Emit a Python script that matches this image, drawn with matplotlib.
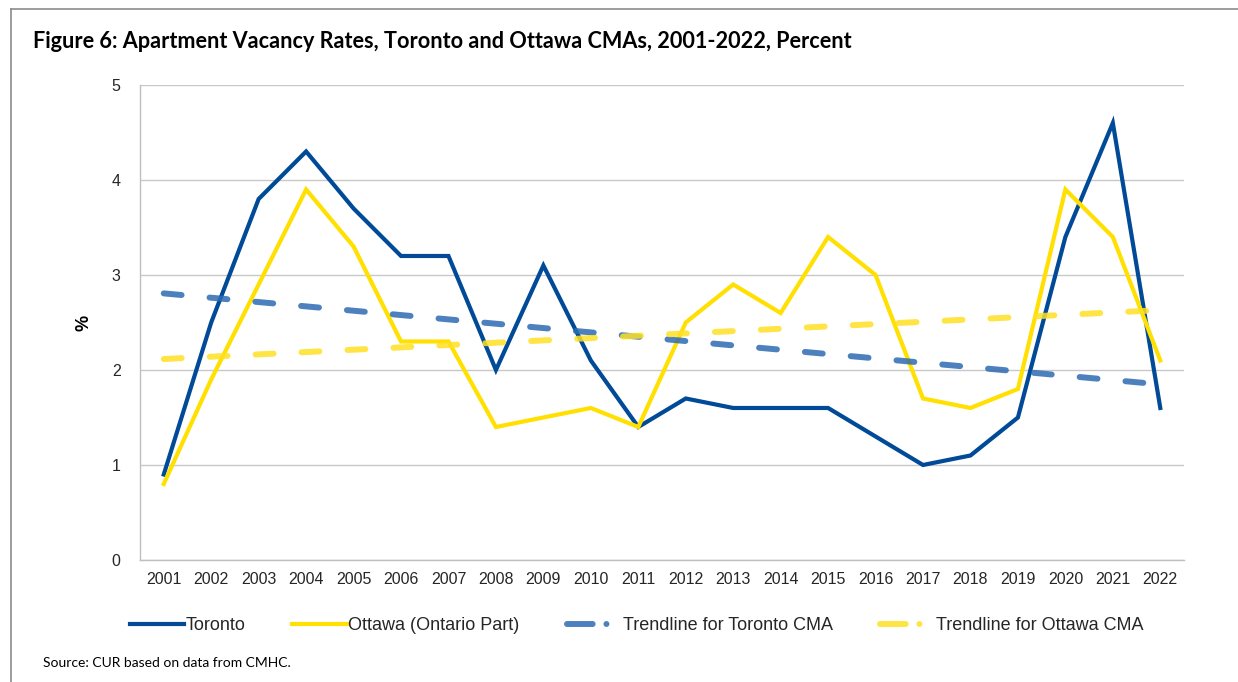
import matplotlib
matplotlib.use('Agg')
import matplotlib.pyplot as plt
import numpy as np
from matplotlib.lines import Line2D

years = ['2001', '2002', '2003', '2004', '2005', '2006', '2007', '2008', '2009', '2010', '2011',
         '2012', '2013', '2014', '2015', '2016', '2017', '2018', '2019', '2020', '2021', '2022']
toronto = [0.9, 2.5, 3.8, 4.3, 3.7, 3.2, 3.2, 2.0, 3.1, 2.1, 1.4,
           1.7, 1.6, 1.6, 1.6, 1.3, 1.0, 1.1, 1.5, 3.4, 4.6, 1.6]
ottawa = [0.8, 1.9, 2.9, 3.9, 3.3, 2.3, 2.3, 1.4, 1.5, 1.6, 1.4,
          2.5, 2.9, 2.6, 3.4, 3.0, 1.7, 1.6, 1.8, 3.9, 3.4, 2.1]

azul = '#004A98'
amarelo = '#FFE000'
azul_tend = '#2E6BB3'
amarelo_tend = '#FFE024'

x = np.arange(len(years))
# linear trendlines (as Excel does)
coef_t = np.polyfit(x, toronto, 1)
coef_o = np.polyfit(x, ottawa, 1)

plt.rcParams['font.family'] = ['Liberation Sans', 'DejaVu Sans']

fig = plt.figure(figsize=(12.38, 6.82), dpi=100)
ax = fig.add_axes([0.1131, 0.1789, 0.8433, 0.6965])

ax.plot(x, toronto, color=azul, lw=3, solid_joinstyle='miter', zorder=3)
ax.plot(x, ottawa, color=amarelo, lw=3, solid_joinstyle='miter', zorder=3)
ax.plot(x, np.polyval(coef_t, x), color=azul_tend, lw=4.3, alpha=0.85,
        dashes=(3, 4.7), dash_capstyle='round', zorder=4)
ax.plot(x, np.polyval(coef_o, x), color=amarelo_tend, lw=4.3, alpha=0.85,
        dashes=(3, 4.7), dash_capstyle='round', zorder=4)

ax.set_xlim(-0.5, len(years) - 0.5)
ax.set_ylim(0, 5)
ax.set_yticks(range(0, 6))
ax.set_xticks(x)
ax.set_xticklabels(years)
ax.tick_params(axis='both', length=0, labelsize=11.5, colors='#262626')
ax.tick_params(axis='x', pad=9)
ax.tick_params(axis='y', pad=14)
ax.grid(axis='y', color='#c8c8c8', lw=1)
ax.set_axisbelow(True)
for lado in ['top', 'right']:
    ax.spines[lado].set_visible(False)
for lado in ['left', 'bottom']:
    ax.spines[lado].set_color('#bfbfbf')
    ax.spines[lado].set_linewidth(1)
ax.set_ylabel('%', fontsize=13, fontweight='bold', labelpad=14)

handles = [
    Line2D([], [], color=azul, lw=3),
    Line2D([], [], color=amarelo, lw=3),
    Line2D([], [], color=azul_tend, lw=4.3, alpha=0.85, dashes=(4.3, 2.3, 0.01, 10),
           dash_capstyle='round'),
    Line2D([], [], color=amarelo_tend, lw=4.3, alpha=0.85, dashes=(4.3, 2.3, 0.01, 10),
           dash_capstyle='round'),
]
labels = ['Toronto', 'Ottawa (Ontario Part)', 'Trendline for Toronto CMA', 'Trendline for Ottawa CMA']
fig.legend(handles, labels, loc='center', bbox_to_anchor=(0.514, 0.083), ncol=4, frameon=False,
           fontsize=13, handlelength=3.0, handletextpad=0.1, columnspacing=2.6,
           labelcolor='#262626')

fig.text(33 / 1238, 1 - 42 / 682, 'Figure 6: Apartment Vacancy Rates, Toronto and Ottawa CMAs, 2001-2022, Percent',
         fontsize=15.6, fontweight='bold', family='Lato', va='center', ha='left', color='black')
fig.text(43 / 1238, 1 - 663 / 682, 'Source: CUR based on data from CMHC.', fontsize=10, family='Lato',
         va='center', ha='left', color='black')

# moldura
fig.add_artist(Line2D([11 / 1238, 1], [1 - 9 / 682, 1 - 9 / 682], transform=fig.transFigure,
                      color='#8c8c8c', lw=1.2))
fig.add_artist(Line2D([11 / 1238, 11 / 1238], [0, 1 - 9 / 682], transform=fig.transFigure,
                      color='#8c8c8c', lw=1.2))

plt.savefig('out.png', dpi=100)
